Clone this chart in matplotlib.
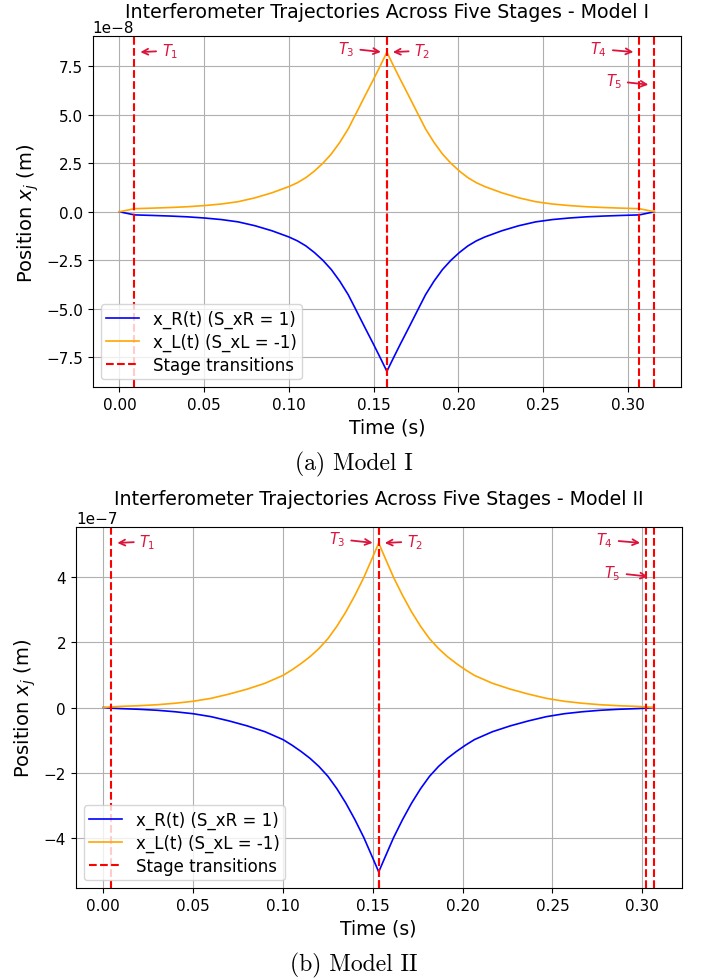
import matplotlib.pyplot as plt

# ---- Model I (amplitudes in units of 1e-8 m) ----
t_m1 = [0.0, 0.0088, 0.02, 0.03, 0.04, 0.05, 0.06, 0.07, 0.08, 0.09, 0.10,
        0.105, 0.11, 0.115, 0.12, 0.125, 0.13, 0.135, 0.1392, 0.145, 0.15,
        0.154, 0.1578,
        0.1616, 0.1656, 0.1706, 0.1764, 0.1806, 0.1856, 0.1906, 0.1956,
        0.2006, 0.2056, 0.2106, 0.2156, 0.2256, 0.2356, 0.2456, 0.2556,
        0.2656, 0.2756, 0.2856, 0.2956, 0.3068, 0.3156]
amp_m1 = [0.0, 0.16, 0.19, 0.22, 0.26, 0.32, 0.40, 0.52, 0.72, 0.98, 1.30,
          1.50, 1.76, 2.10, 2.50, 2.98, 3.58, 4.28, 5.00, 6.00, 6.85,
          7.55, 8.23,
          7.55, 6.85, 6.00, 5.00, 4.28, 3.58, 2.98, 2.50,
          2.10, 1.76, 1.50, 1.30, 0.98, 0.72, 0.52, 0.40,
          0.32, 0.26, 0.22, 0.19, 0.16, 0.0]
stages_m1 = [0.0088, 0.1578, 0.1578, 0.3068, 0.3156]

# ---- Model II (amplitudes in units of 1e-7 m) ----
t_m2 = [0.0, 0.0044, 0.01, 0.02, 0.03, 0.04, 0.05, 0.06, 0.07, 0.08, 0.09, 0.10,
        0.105, 0.11, 0.115, 0.12, 0.125, 0.13, 0.135, 0.14, 0.145, 0.15,
        0.1533,
        0.1566, 0.1616, 0.1666, 0.1716, 0.1766, 0.1816, 0.1866, 0.1916, 0.1966,
        0.2016, 0.2066, 0.2166, 0.2266, 0.2366, 0.2466, 0.2566, 0.2666, 0.2766,
        0.2866, 0.2966, 0.3022, 0.3066]
amp_m2 = [0.0, 0.02, 0.035, 0.055, 0.085, 0.13, 0.19, 0.28, 0.41, 0.56, 0.74, 0.98,
          1.15, 1.34, 1.55, 1.80, 2.10, 2.48, 2.92, 3.42, 3.97, 4.60,
          5.02,
          4.60, 3.97, 3.42, 2.92, 2.48, 2.10, 1.80, 1.55, 1.34,
          1.15, 0.98, 0.74, 0.56, 0.41, 0.28, 0.19, 0.13, 0.085,
          0.055, 0.035, 0.02, 0.0]
stages_m2 = [0.0044, 0.1533, 0.1533, 0.3022, 0.3066]

s_xR = 1
s_xL = -1
stage_names = ['$T_1$', '$T_2$', '$T_3$', '$T_4$', '$T_5$']


def draw_panel(ax, t, amp, unit, stages, title, title_y):
    xR = [-s_xR * a * unit for a in amp]
    xL = [-s_xL * a * unit for a in amp]
    ax.plot(t, xR, color='blue', lw=1.2, label='x_R(t) (S_xR = 1)')
    ax.plot(t, xL, color='orange', lw=1.2, label='x_L(t) (S_xL = -1)')
    for i, ts in enumerate(stages):
        ax.axvline(ts, color='red', ls='--', lw=1.5,
                   label='Stage transitions' if i == 0 else None)

    peak = max(amp) * unit
    span = stages[-1]
    d_txt = 0.05 * span   # text distance from line
    d_head = 0.006 * span  # arrow head distance from line
    # (index, side of text, y of head, y of text)
    marks = [(0, 'right', peak, peak * 1.01),
             (1, 'right', peak, peak * 1.01),
             (2, 'left', peak, peak * 1.025),
             (3, 'left', peak, peak * 1.02),
             (4, 'left', 0.795 * peak, 0.82 * peak)]
    for i, side, yh, yt in marks:
        ts = stages[i]
        if side == 'right':
            xy = (ts + d_head, yh)
            xyt = (ts + d_txt * 1.02, yt)
            ha = 'left'
        else:
            xy = (ts - d_head, yh)
            xyt = (ts - d_txt * 1.2, yt)
            ha = 'right'
        ax.annotate(stage_names[i], xy=xy, xytext=xyt, ha=ha, va='center',
                    color='crimson', fontsize=10.5,
                    arrowprops=dict(arrowstyle='->', color='crimson', lw=1.3))

    ax.set_title(title, fontsize=13.7, y=title_y, pad=0)
    ax.set_xlabel('Time (s)', fontsize=13.5)
    ax.set_ylabel('Position $x_j$ (m)', fontsize=14)
    ax.tick_params(labelsize=11)
    ax.yaxis.get_offset_text().set_fontsize(11)
    ax.grid(True)
    ax.legend(loc='lower left', fontsize=12, labelspacing=0.3, borderpad=0.3)


fig = plt.figure(figsize=(7.04, 9.79), dpi=100)
ax1 = fig.add_axes([0.1317, 0.6034, 0.8357, 0.3585])
ax2 = fig.add_axes([0.1077, 0.0916, 0.8605, 0.3694])

draw_panel(ax1, t_m1, amp_m1, 1e-8, stages_m1,
           'Interferometer Trajectories Across Five Stages - Model I', 1.055)
draw_panel(ax2, t_m2, amp_m2, 1e-7, stages_m2,
           'Interferometer Trajectories Across Five Stages - Model II', 1.063)

fig.text(0.502, 1 - 464 / 979, '(a) Model I', family='cmr10', fontsize=17,
         ha='center', va='center')
fig.text(0.503, 1 - 965 / 979, '(b) Model II', family='cmr10', fontsize=17,
         ha='center', va='center')

fig.savefig('out.png', dpi=100)
